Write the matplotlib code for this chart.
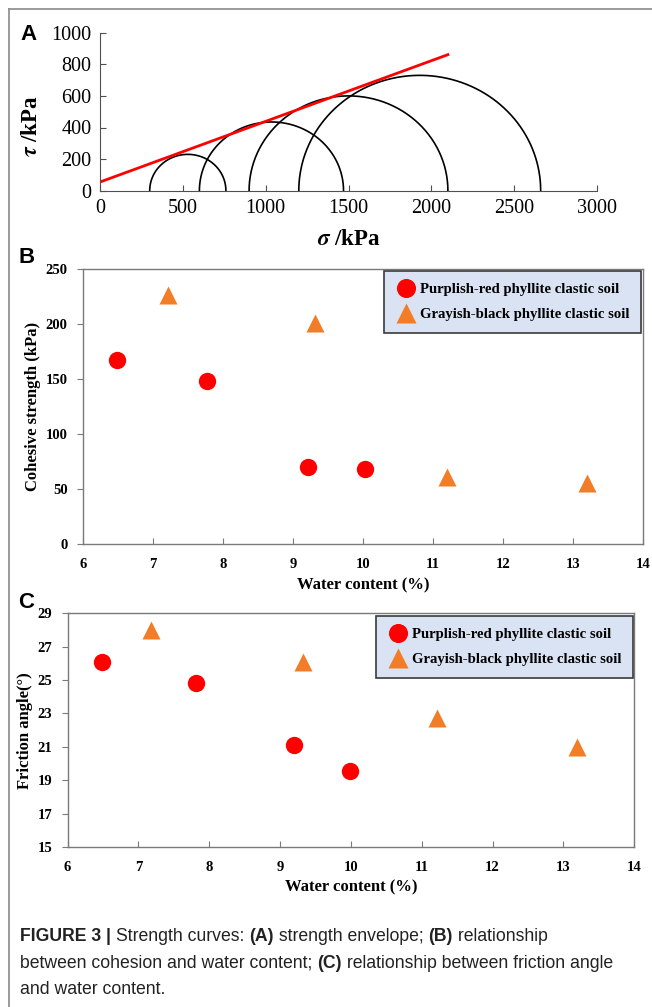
import numpy as np
import matplotlib
matplotlib.use('Agg')
import matplotlib.pyplot as plt
from matplotlib.lines import Line2D

# (A) Mohr circles, principal stresses (kPa)
sigma3 = [300, 600, 900, 1200]
sigma1 = [760, 1470, 2100, 2660]
env_c = 55.0      # cohesion intercept (kPa)
env_phi = 21.0    # friction angle (deg)
env_end = 2100

# (B) cohesive strength vs water content
w_red_b = [6.49, 7.77, 9.21, 10.03]
c_red = [167, 148.5, 69.7, 68.2]
w_gray_b = [7.21, 9.31, 11.2, 13.2]
c_gray = [226, 201, 60.6, 55.7]

# (C) friction angle vs water content
w_red_c = [6.49, 7.81, 9.2, 9.99]
phi_red = [26.1, 24.83, 21.12, 19.57]
w_gray_c = [7.18, 9.33, 11.21, 13.19]
phi_gray = [28.0, 26.07, 22.7, 21.0]

soil_labels = ['Purplish-red phyllite clastic soil',
               'Grayish-black phyllite clastic soil']

RED = '#ff0000'
ORANGE = '#f27d26'
SPINE = '#7a7a7a'
SERIF = 'Liberation Serif'
plt.rcParams['mathtext.fontset'] = 'stix'

W, H = 652, 1007
fig = plt.figure(figsize=(W / 100, H / 100), dpi=100)


def frac(left, top, right, bottom):
    return [left / W, 1 - bottom / H, (right - left) / W, (bottom - top) / H]


# ---------- panel A ----------
axA = fig.add_axes(frac(100, 32.7, 597, 190.7))
th = np.linspace(0, np.pi, 300)
for s3, s1 in zip(sigma3, sigma1):
    cen = (s1 + s3) / 2.0
    r = (s1 - s3) / 2.0
    axA.plot(cen + r * np.cos(th), r * np.sin(th), color='black', lw=1.2)
xs = np.array([0, env_end])
axA.plot(xs, env_c + np.tan(np.radians(env_phi)) * xs, color=RED, lw=2)
axA.set_xlim(0, 3000)
axA.set_ylim(0, 1000)
axA.set_xticks(range(0, 3001, 500))
axA.set_yticks(range(0, 1001, 200))
for s in ['top', 'right']:
    axA.spines[s].set_visible(False)
for s in ['left', 'bottom']:
    axA.spines[s].set_color('#505050')
axA.tick_params(direction='in', length=4, color='#505050', pad=6)
for lab in axA.get_xticklabels() + axA.get_yticklabels():
    lab.set_fontfamily(SERIF)
    lab.set_fontsize(14.5)
axA.set_xlabel(r'$\mathbfit{\sigma}$ /kPa', fontfamily=SERIF, fontweight='bold', fontsize=16.5)
axA.set_ylabel(r'$\mathbfit{\tau}$ /kPa', fontfamily=SERIF, fontweight='bold', fontsize=16.5)
axA.xaxis.set_label_coords(0.5, -0.312)
axA.yaxis.set_label_coords(-0.138, 0.41)
axA.xaxis.label.set_va('center')
axA.yaxis.label.set_va('center')


def scatter_panel(ax, xr, yr, xg, yg, ylim, yticks, ylabel, ylab_xy, xlab_y, leg_xy):
    ax.plot(xr, yr, 'o', color=RED, ms=12.5, mec='none', label=soil_labels[0])
    ax.plot(xg, yg, '^', color=ORANGE, ms=12.8, mec='none', label=soil_labels[1])
    ax.set_xlim(6, 14)
    ax.set_ylim(*ylim)
    ax.set_xticks(range(6, 15))
    ax.set_yticks(yticks)
    for s in ax.spines.values():
        s.set_color(SPINE)
        s.set_linewidth(1.0)
    ax.tick_params(axis='x', direction='in', length=4, color=SPINE, pad=10)
    ax.tick_params(axis='y', direction='out', length=4, color=SPINE, pad=7)
    for lab in ax.get_xticklabels() + ax.get_yticklabels():
        lab.set_fontfamily(SERIF)
        lab.set_fontweight('bold')
        lab.set_fontsize(10.5)
    ax.set_xlabel('Water content (%)', fontfamily=SERIF, fontweight='bold', fontsize=12)
    ax.set_ylabel(ylabel, fontfamily=SERIF, fontweight='bold', fontsize=12)
    ax.xaxis.set_label_coords(0.5, xlab_y)
    ax.yaxis.set_label_coords(*ylab_xy)
    ax.xaxis.label.set_va('center')
    ax.yaxis.label.set_va('center')
    leg = ax.legend(loc='upper right', bbox_to_anchor=leg_xy, frameon=True, fancybox=False,
                    prop=dict(family=SERIF, weight='bold', size=10.6),
                    handletextpad=0.3, borderpad=0.8, labelspacing=0.8,
                    borderaxespad=0, handlelength=1.3, markerscale=1.1)
    fr = leg.get_frame()
    fr.set_facecolor('#dae3f3')
    fr.set_edgecolor('#3a3a3a')
    fr.set_linewidth(1.2)
    fr.set_alpha(1)


# ---------- panel B ----------
axB = fig.add_axes(frac(83, 269, 643, 544))
scatter_panel(axB, w_red_b, c_red, w_gray_b, c_gray, (0, 250), range(0, 251, 50),
              'Cohesive strength (kPa)', (-0.089, 0.5), -0.152, (0.9964, 0.9927))

# ---------- panel C ----------
axC = fig.add_axes(frac(67.5, 613.3, 634.3, 847))
scatter_panel(axC, w_red_c, phi_red, w_gray_c, phi_gray, (15, 29), range(15, 30, 2),
              'Friction angle(\u00b0)', (-0.075, 0.5), -0.172, (0.9977, 0.9885))

# panel letters
for letter, x, y in [('A', 20, 35), ('B', 19, 257), ('C', 18, 602)]:
    fig.text(x / W, 1 - y / H, letter, fontsize=16, fontweight='bold',
             fontfamily='Liberation Sans', ha='left', va='center')

# outer frame (top and left edges)
fig.add_artist(Line2D([9 / W, 1], [1 - 9 / H, 1 - 9 / H], transform=fig.transFigure,
                      color='#8a8a8a', lw=1.2))
fig.add_artist(Line2D([9 / W, 9 / W], [0, 1 - 9 / H], transform=fig.transFigure,
                      color='#8a8a8a', lw=1.2))

# caption
cap = fig.add_axes([0, 0, 1, 1])
cap.axis('off')
cap.set_zorder(-1)
cap_lines = [
    (941, [('FIGURE 3 | ', True), ('Strength curves: ', False), ('(A)', True),
           (' strength envelope; ', False), ('(B)', True), (' relationship', False)]),
    (968, [('between cohesion and water content; ', False), ('(C)', True),
           (' relationship between friction angle', False)]),
    (994, [('and water content.', False)]),
]
cap_font = ['Liberation Sans', 'DejaVu Sans']
for ybase, segs in cap_lines:
    prev = None
    for txt, bold in segs:
        kw = dict(fontsize=12.7, fontweight='bold' if bold else 'normal',
                  family=cap_font, color='#222222')
        if prev is None:
            prev = cap.text(20 / W, 1 - ybase / H, txt, ha='left', va='baseline',
                            transform=fig.transFigure, **kw)
        else:
            prev = cap.annotate(txt, xy=(1, 0), xycoords=prev, ha='left', va='bottom', **kw)

fig.savefig('out.png', dpi=100)
